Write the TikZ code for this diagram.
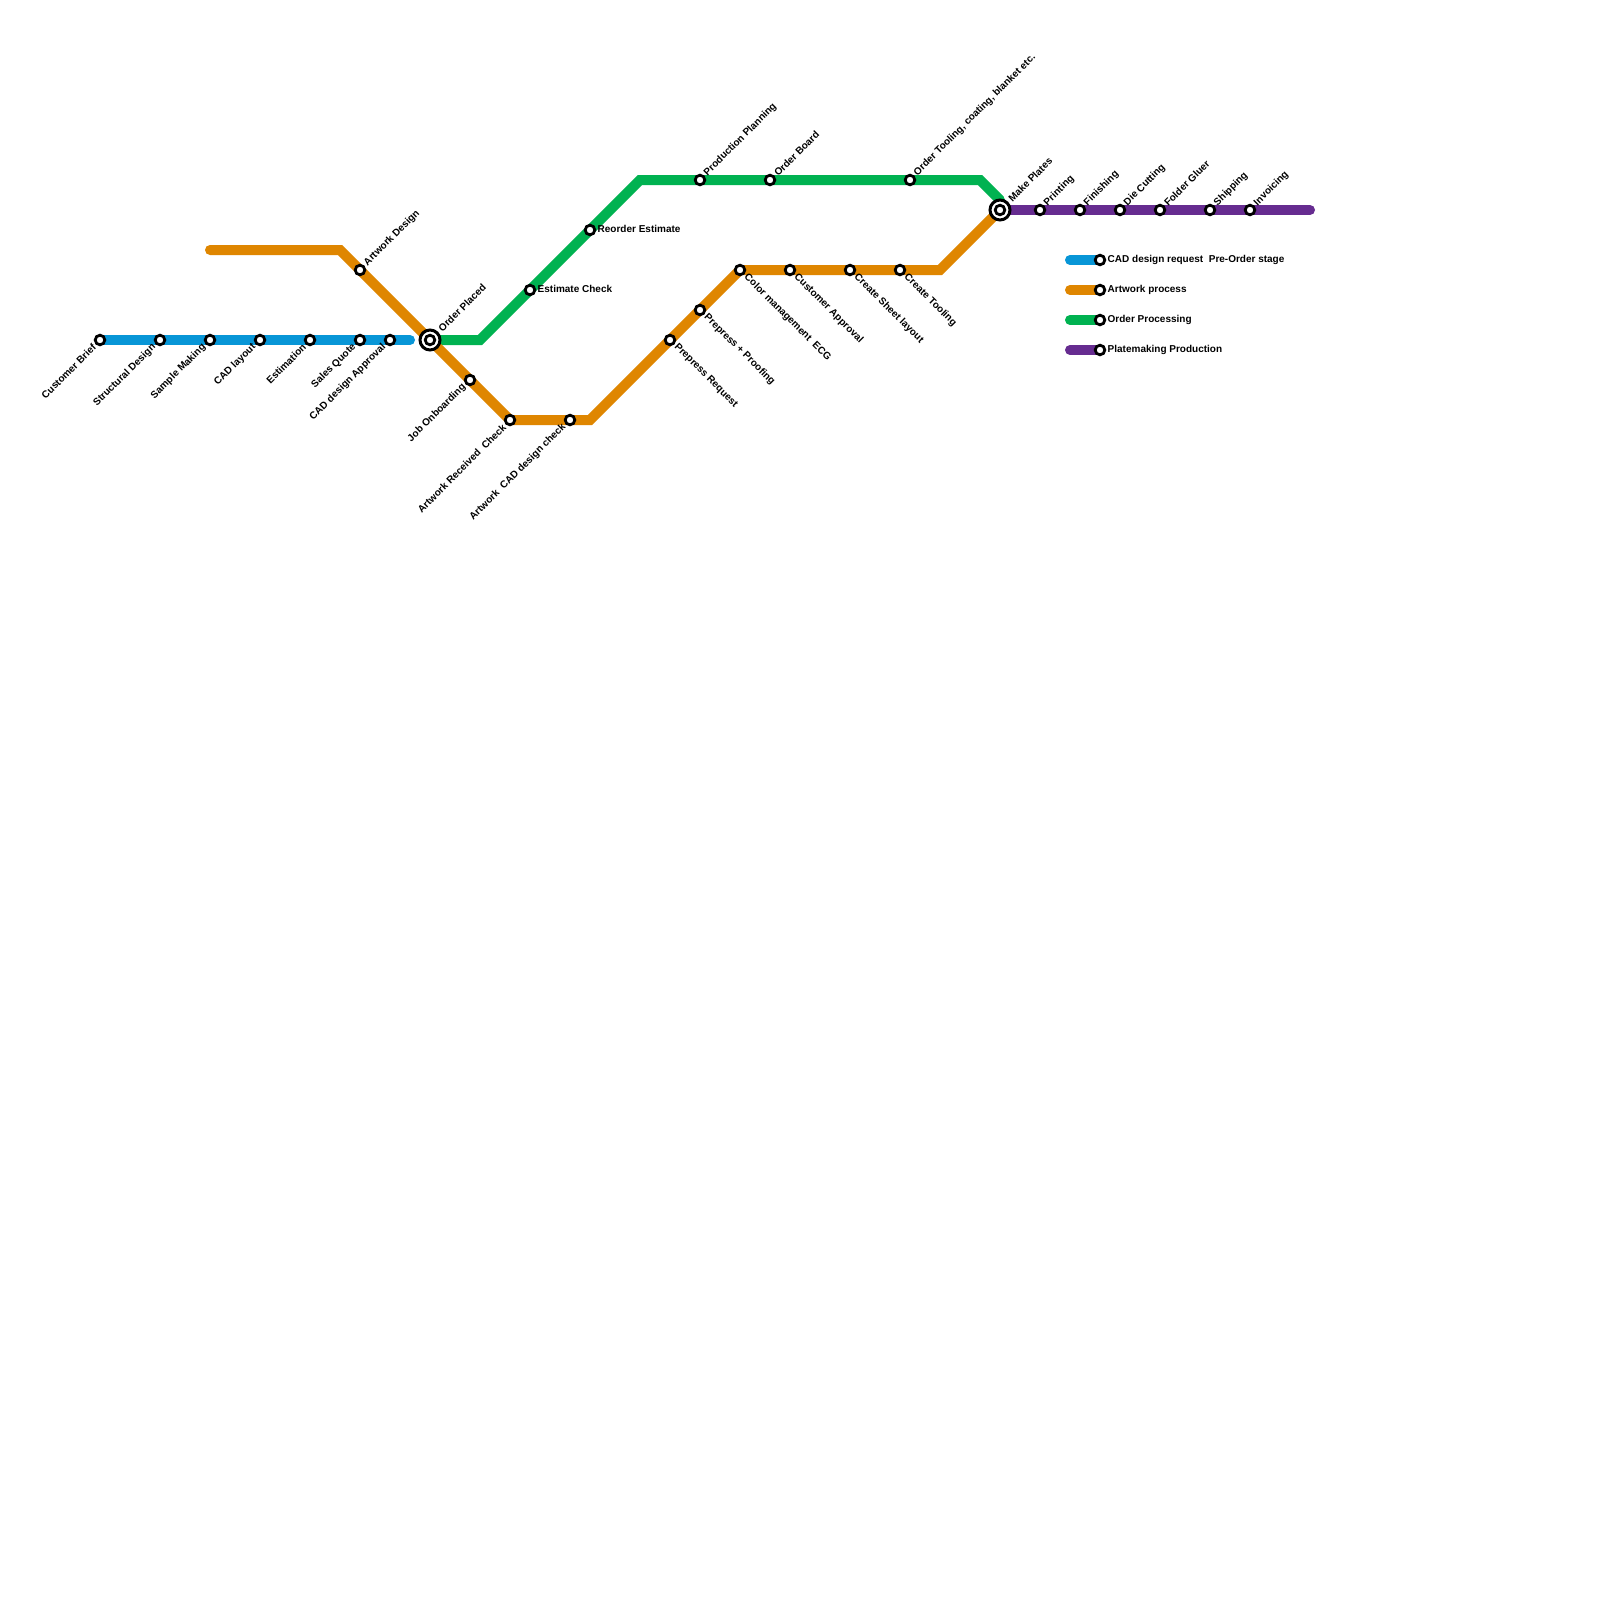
\documentclass[tikz,border=0pt]{standalone}
\usepackage{fontspec}
\setmainfont{Liberation Sans}
\usetikzlibrary{backgrounds}

\definecolor{linecad}{HTML}{0896D7}
\definecolor{lineart}{HTML}{DF8600}
\definecolor{lineorder}{HTML}{00B251}
\definecolor{lineplate}{HTML}{662C90}

\begin{document}
\begin{tikzpicture}[
  x=1pt, y=-1pt,
  stop/.style={circle, draw=black, fill=white, line width=2.8pt, minimum size=9.6pt, inner sep=0pt, outer sep=0pt},
  hub/.style={circle, draw=black, fill=white, line width=3pt, minimum size=20pt, inner sep=0pt, outer sep=0pt},
  route/.style={line width=10pt, line cap=round, miter limit=10},
  lbl/.style={font=\bfseries\fontsize{10}{11}\selectfont, inner ysep=0pt, inner xsep=8pt},
  lblsw/.style={lbl, anchor=east, rotate=45},
  lblne/.style={lbl, anchor=west, rotate=45},
  lblse/.style={lbl, anchor=west, rotate=-45},
  lble/.style={lbl, anchor=west, inner xsep=7.5pt},
  lblhub/.style={lblne, inner xsep=14pt}
]
\useasboundingbox (0,0) rectangle (1600,1600);

% ---- Bends ----
\coordinate (artstart) at (210,250);
\coordinate (artbendA) at (340,250);
\coordinate (artbendB) at (590,420);
\coordinate (artbendC) at (940,270);
\coordinate (cadend)   at (410,340);
\coordinate (ordbendA) at (480,340);
\coordinate (ordbendB) at (640,180);
\coordinate (ordbendC) at (980,180);
\coordinate (ordend)   at (1000,200);
\coordinate (plateend) at (1310,210);

% ---- Interchanges ----
\node[hub]  (placed)  at (430,340)  {};
\node[stop] (placedi) at (430,340)  {};
\node[hub]  (plates)  at (1000,210) {};
\node[stop] (platesi) at (1000,210) {};

% ---- CAD stops ----
\node[stop] (brief)  at (100,340) {};
\node[stop] (struct) at (160,340) {};
\node[stop] (sample) at (210,340) {};
\node[stop] (layout) at (260,340) {};
\node[stop] (estim)  at (310,340) {};
\node[stop] (quote)  at (360,340) {};
\node[stop] (cadok)  at (390,340) {};

% ---- Artwork stops ----
\node[stop] (artdes)  at (360,270) {};
\node[stop] (onboard) at (470,380) {};
\node[stop] (artrec)  at (510,420) {};
\node[stop] (artcad)  at (570,420) {};
\node[stop] (pprereq) at (670,340) {};
\node[stop] (pproof)  at (700,310) {};
\node[stop] (color)   at (740,270) {};
\node[stop] (custapp) at (790,270) {};
\node[stop] (sheet)   at (850,270) {};
\node[stop] (tooling) at (900,270) {};

% ---- Order stops ----
\node[stop] (estchk)  at (530,290) {};
\node[stop] (reorder) at (590,230) {};
\node[stop] (plan)    at (700,180) {};
\node[stop] (board)   at (770,180) {};
\node[stop] (ordtool) at (910,180) {};

% ---- Production stops ----
\node[stop] (print)  at (1040,210) {};
\node[stop] (finish) at (1080,210) {};
\node[stop] (diecut) at (1120,210) {};
\node[stop] (gluer)  at (1160,210) {};
\node[stop] (ship)   at (1210,210) {};
\node[stop] (invoice) at (1250,210) {};

% ---- Legend ----
\coordinate (legcad)   at (1070,260);
\coordinate (legart)   at (1070,290);
\coordinate (legord)   at (1070,320);
\coordinate (legplate) at (1070,350);
\node[stop] (legcadS)   at (1100,260) {};
\node[stop] (legartS)   at (1100,290) {};
\node[stop] (legordS)   at (1100,320) {};
\node[stop] (legplateS) at (1100,350) {};

% ---- Lines ----
\begin{scope}[on background layer]
\fill[white] (0,0) rectangle (1600,1600);
\draw[route, lineorder] (placed.center) -- (ordbendA) -- (ordbendB) -- (ordbendC) -- (ordend);
\draw[route, lineart] (artstart) -- (artbendA) -- (placed.center) -- (artrec.center) -- (artbendB) -- (color.center) -- (artbendC) -- (plates.center);
\draw[route, linecad] (brief.center) -- (cadend);
\draw[route, lineplate] (plates.center) -- (plateend);
\draw[route, linecad] (legcad) -- (legcadS.center);
\draw[route, lineart] (legart) -- (legartS.center);
\draw[route, lineorder] (legord) -- (legordS.center);
\draw[route, lineplate] (legplate) -- (legplateS.center);
\end{scope}

% ---- Labels ----
\node[lblsw] (briefT)  at (brief)  {Customer Brief};
\node[lblsw] (structT) at (struct) {Structural Design};
\node[lblsw] (sampleT) at (sample) {Sample Making};
\node[lblsw] (layoutT) at (layout) {CAD layout};
\node[lblsw] (estimT)  at (estim)  {Estimation};
\node[lblsw] (quoteT)  at (quote)  {Sales Quote};
\node[lblsw] (cadokT)  at (cadok)  {CAD design Approval};
\node[lblsw] (onboardT) at (onboard) {Job Onboarding};
\node[lblsw] (artrecT) at (artrec) {Artwork Received\ \ Check};
\node[lblsw] (artcadT) at (artcad) {Artwork\ \ CAD design check};

\node[lblne]  (artdesT) at (artdes) {Artwork Design};
\node[lblhub] (placedT) at (placed) {Order Placed};
\node[lblne]  (planT)   at (plan)   {Production Planning};
\node[lblne]  (boardT)  at (board)  {Order Board};
\node[lblne]  (ordtoolT) at (ordtool) {Order Tooling, coating, blanket etc.};
\node[lblhub] (platesT) at (plates) {Make Plates};
\node[lblne]  (printT)  at (print)  {Printing};
\node[lblne]  (finishT) at (finish) {Finishing};
\node[lblne]  (diecutT) at (diecut) {Die Cutting};
\node[lblne]  (gluerT)  at (gluer)  {Folder Gluer};
\node[lblne]  (shipT)   at (ship)   {Shipping};
\node[lblne]  (invoiceT) at (invoice) {Invoicing};

\node[lblse] (pprereqT) at (pprereq) {Prepress Request};
\node[lblse] (pproofT)  at (pproof)  {Prepress + Proofing};
\node[lblse] (colorT)   at (color)   {Color management\ \ ECG};
\node[lblse] (custappT) at (custapp) {Customer Approval};
\node[lblse] (sheetT)   at (sheet)   {Create Sheet layout};
\node[lblse] (toolingT) at (tooling) {Create Tooling};

\node[lble, yshift=1pt] (estchkT)  at (estchk)  {Estimate Check};
\node[lble, yshift=1pt] (reorderT) at (reorder) {Reorder Estimate};
\node[lble] (legcadT)  at (legcadS) {CAD design request\ \ Pre-Order stage};
\node[lble] (legartT)  at (legartS) {Artwork process};
\node[lble] (legordT)  at (legordS) {Order Processing};
\node[lble] (legplateT) at (legplateS) {Platemaking Production};

\end{tikzpicture}
\end{document}
